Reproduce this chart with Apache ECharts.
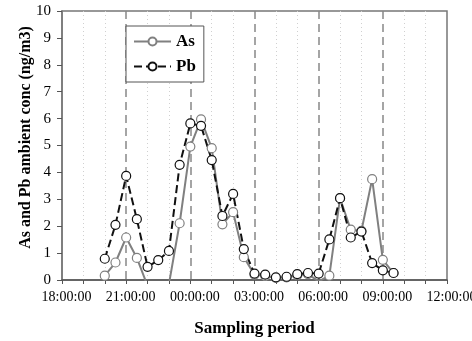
<!DOCTYPE html>
<html>
<head>
<meta charset="utf-8">
<script src="https://cdn.jsdelivr.net/npm/echarts@6/dist/echarts.min.js"></script>
<style>
  html, body { margin: 0; padding: 0; background: #fff; }
  #chart { width: 472px; height: 341px; }
</style>
</head>
<body>
<div id="chart"></div>
<script>
// sampling times (half-hourly, 20:00 -> 09:30 next day)
const times = ['20:00', '20:30', '21:00', '21:30', '22:00', '22:30', '23:00', '23:30',
  '00:00', '00:30', '01:00', '01:30', '02:00', '02:30', '03:00', '03:30', '04:00', '04:30',
  '05:00', '05:30', '06:00', '06:30', '07:00', '07:30', '08:00', '08:30', '09:00', '09:30'];
// As values (negatives fall below the axis and are clipped, as in the original)
const asValues = [0.16, 0.65, 1.58, 0.82, -0.22, -0.5, -0.15, 2.11,
  4.96, 5.97, 4.90, 2.07, 2.52, 0.85, 0.20, 0.15, 0.08, 0.10,
  0.18, 0.22, -0.05, 0.16, 3.04, 1.87, 1.83, 3.75, 0.75, 0.26];
const pbValues = [0.79, 2.05, 3.87, 2.26, 0.49, 0.74, 1.08, 4.28,
  5.82, 5.73, 4.46, 2.38, 3.20, 1.15, 0.24, 0.20, 0.10, 0.12,
  0.22, 0.26, 0.24, 1.51, 3.04, 1.58, 1.80, 0.63, 0.36, 0.26];
const startHour = 18; // x axis starts at 18:00:00
const xMax = 18;      // ... and runs 18 hours to 12:00:00

const FONT = 'Liberation Serif';

// hours since 18:00
function toHours(t) {
  const [h, m] = t.split(':').map(Number);
  return ((h - startHour + 24) % 24) + m / 60;
}
const asData = times.map((t, i) => [toHours(t), asValues[i]]);
const pbData = times.map((t, i) => [toHours(t), pbValues[i]]);

const chart = echarts.init(document.getElementById('chart'));
chart.setOption({
  animation: false,
  grid: {
    left: 62, right: 25, top: 11, bottom: 61,
    outerBoundsMode: 'none', containLabel: false,
    show: true, borderColor: '#777', borderWidth: 1.5
  },
  legend: {
    left: 126, top: 26,
    orient: 'vertical',
    backgroundColor: '#fff',
    borderColor: '#555', borderWidth: 1,
    padding: [7, 8, 7, 7],
    itemWidth: 37, itemHeight: 10, itemGap: 8,
    textStyle: { fontFamily: FONT, fontWeight: 'bold', fontSize: 17, color: '#000' },
    data: ['As', 'Pb']
  },
  xAxis: {
    type: 'value', min: 0, max: xMax, interval: 3,
    name: 'Sampling period', nameLocation: 'middle', nameGap: 40, nameMoveOverlap: false,
    nameTextStyle: { fontFamily: FONT, fontWeight: 'bold', fontSize: 17, color: '#000' },
    axisLine: { lineStyle: { color: '#555', width: 1.5 } },
    axisTick: { length: 4, lineStyle: { color: '#555' } },
    minorTick: { show: true, splitNumber: 3, length: 4, lineStyle: { color: '#555' } },
    axisLabel: {
      margin: 10, fontFamily: FONT, fontSize: 14, color: '#000', padding: [0, 0, 0, 9],
      formatter: v => String((startHour + v) % 24).padStart(2, '0') + ':00:00'
    },
    splitLine: { show: true, showMinLine: false, showMaxLine: false,
      lineStyle: { color: '#888', width: 1.5, type: [8, 5] } },
    minorSplitLine: { show: true, lineStyle: { color: '#d0d0d0', width: 1, type: [1, 3] } }
  },
  yAxis: {
    type: 'value', min: 0, max: 10, interval: 1,
    name: 'As and Pb ambient conc (ng/m3)', nameLocation: 'middle', nameGap: 28, nameMoveOverlap: false,
    nameTextStyle: { fontFamily: FONT, fontWeight: 'bold', fontSize: 16, color: '#000', padding: [0, 0, 0, 16] },
    axisLine: { show: true, lineStyle: { color: '#777', width: 1.5 } },
    axisTick: { show: true, length: 5, lineStyle: { color: '#555' } },
    axisLabel: { margin: 11, fontFamily: FONT, fontSize: 15, color: '#000' },
    splitLine: { show: false }
  },
  series: [{
    name: 'As', type: 'line', data: asData,
    symbol: 'circle', symbolSize: 9, showAllSymbol: true,
    lineStyle: { color: '#808080', width: 2 },
    itemStyle: { color: '#fff', borderColor: '#808080', borderWidth: 1.2 }
  }, {
    name: 'Pb', type: 'line', data: pbData,
    symbol: 'circle', symbolSize: 9, showAllSymbol: true,
    lineStyle: { color: '#111', width: 2, type: [8, 4] },
    itemStyle: { color: '#fff', borderColor: '#111', borderWidth: 1.2 }
  }]
});
</script>
</body>
</html>
